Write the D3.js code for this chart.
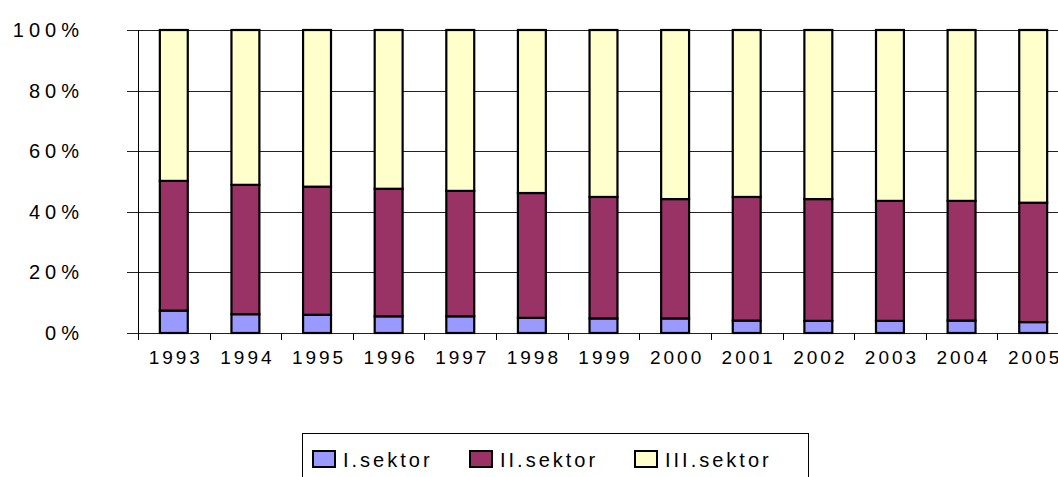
<!DOCTYPE html>
<html>
<head>
<meta charset="utf-8">
<script src="https://cdn.jsdelivr.net/npm/d3@7"></script>
<style>
  body { margin:0; background:#fff; }
  svg { display:block; font-family:"Liberation Sans", Arial, sans-serif; }
</style>
</head>
<body>
<svg width="1058" height="477"></svg>
<script>
var years = ["1993","1994","1995","1996","1997","1998","1999","2000","2001","2002","2003","2004","2005"];
var sektor1 = [7.4,6.2,6.0,5.5,5.5,5.0,4.8,4.8,4.1,4.0,4.0,4.1,3.6];
var sektor2 = [42.8,42.7,42.3,42.1,41.4,41.2,40.1,39.4,40.8,40.2,39.6,39.5,39.4];
var sektor3 = [49.8,51.1,51.7,52.4,53.1,53.8,55.1,55.8,55.1,55.8,56.4,56.4,57.0];
var seriesNames = ["I.sektor","II.sektor","III.sektor"];
var colors = ["#9999ff","#993366","#ffffcc"];
var yTicks = [0,20,40,60,80,100];

var svg = d3.select("svg");
var marge = {top:30,left:138,right:1069,bottom:333};

// data table for the stack
var table = years.map(function(y,i){
	return {year:y, "I.sektor":sektor1[i], "II.sektor":sektor2[i], "III.sektor":sektor3[i]};
});
var stacked = d3.stack().keys(seriesNames)(table);

var xScale = d3.scaleBand()
	.domain(years)
	.range([marge.left,marge.right]);
var yScale = d3.scaleLinear()
	.domain([0,100])
	.range([marge.bottom,marge.top]);

// horizontal gridlines
svg.append("g")
	.selectAll("line")
	.data(yTicks)
	.enter()
	.append("line")
	.attr("x1",marge.left-11)
	.attr("x2",marge.right)
	.attr("y1",function(d){ return Math.round(yScale(d))+0.5; })
	.attr("y2",function(d){ return Math.round(yScale(d))+0.5; })
	.attr("stroke","#222")
	.attr("stroke-width",1.2);

// y axis line
svg.append("line")
	.attr("x1",marge.left+0.5).attr("x2",marge.left+0.5)
	.attr("y1",yScale(100)).attr("y2",yScale(0))
	.attr("stroke","#000");

// x axis tick marks at band edges
svg.append("g")
	.selectAll("line")
	.data(years)
	.enter()
	.append("line")
	.attr("x1",function(d){ return Math.round(xScale(d))+0.5; })
	.attr("x2",function(d){ return Math.round(xScale(d))+0.5; })
	.attr("y1",yScale(0))
	.attr("y2",yScale(0)+7)
	.attr("stroke","#000");

// y labels
svg.append("g")
	.selectAll("text")
	.data(yTicks)
	.enter()
	.append("text")
	.attr("x",84)
	.attr("y",function(d){ return yScale(d)+7; })
	.attr("text-anchor","end")
	.attr("font-size",20)
	.attr("letter-spacing",5)
	.attr("fill","#000")
	.text(function(d){ return d+"%"; });

// x labels
svg.append("g")
	.selectAll("text")
	.data(years)
	.enter()
	.append("text")
	.attr("x",function(d){ return xScale(d)+xScale.bandwidth()/2+2; })
	.attr("y",364)
	.attr("text-anchor","middle")
	.attr("font-size",19)
	.attr("letter-spacing",3)
	.attr("fill","#000")
	.text(function(d){ return d; });

// bars
var barW = xScale.bandwidth()*0.39;
var gs = svg.append("g")
	.selectAll("g")
	.data(stacked)
	.enter()
	.append("g")
	.attr("fill",function(d,i){ return colors[i]; });
gs.selectAll("rect")
	.data(function(d){ return d; })
	.enter()
	.append("rect")
	.attr("x",function(d){ return xScale(d.data.year)+(xScale.bandwidth()-barW)/2; })
	.attr("y",function(d){ return yScale(d[1]); })
	.attr("width",barW)
	.attr("height",function(d){ return yScale(d[0])-yScale(d[1]); })
	.attr("stroke","#000")
	.attr("stroke-width",2.2);

// legend
var legend = svg.append("g");
legend.append("rect")
	.attr("x",302.5).attr("y",433.5)
	.attr("width",506).attr("height",60)
	.attr("fill","#fff")
	.attr("stroke","#000");
var legX = [313,470,635];
var items = legend.selectAll(".item")
	.data(seriesNames)
	.enter()
	.append("g");
items.append("rect")
	.attr("x",function(d,i){ return legX[i]; })
	.attr("y",451)
	.attr("width",22)
	.attr("height",16)
	.attr("fill",function(d,i){ return colors[i]; })
	.attr("stroke","#000")
	.attr("stroke-width",2);
items.append("text")
	.attr("x",function(d,i){ return legX[i]+30; })
	.attr("y",467)
	.attr("font-size",20)
	.attr("letter-spacing",3)
	.attr("fill","#000")
	.text(function(d){ return d; });
</script>
</body>
</html>
